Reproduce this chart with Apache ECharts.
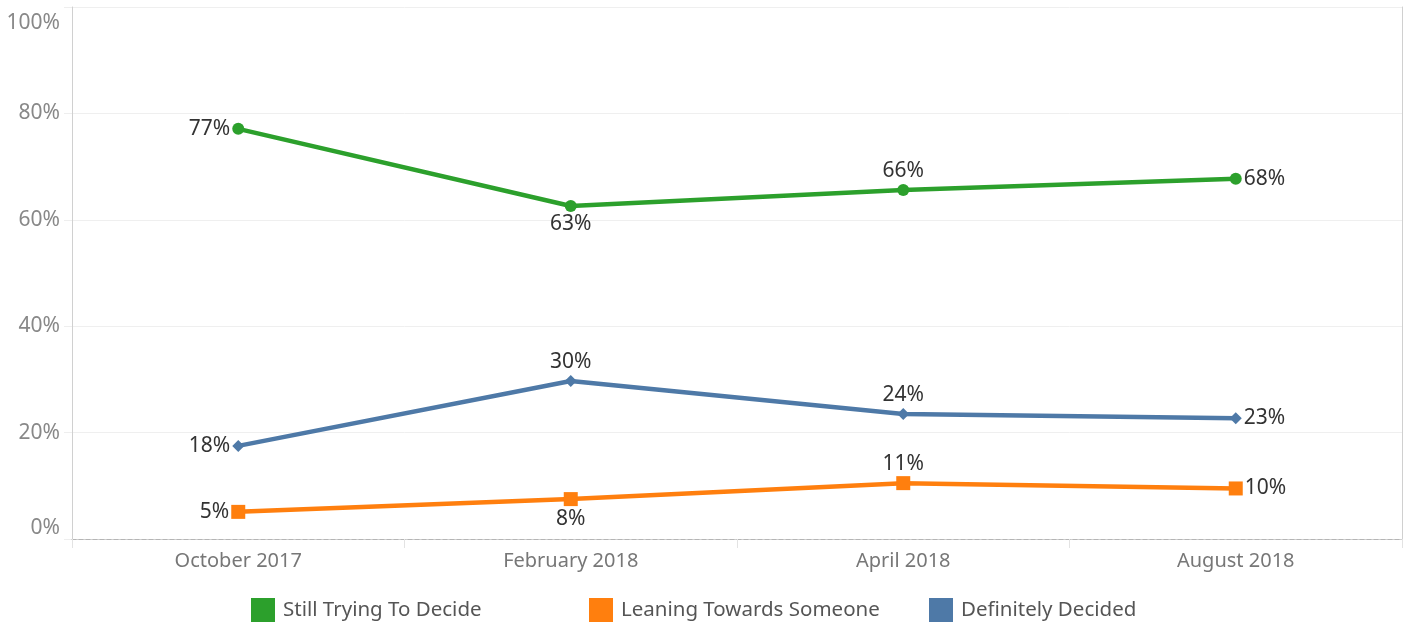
<!DOCTYPE html>
<html><head><meta charset="utf-8">
<script src="https://cdn.jsdelivr.net/npm/echarts@6/dist/echarts.min.js"></script>
<style>html,body{margin:0;padding:0;background:#fff}#c{width:1410px;height:625px}</style>
</head><body><div id="c"></div>
<script>
const categories = ['October 2017', 'February 2018', 'April 2018', 'August 2018'];
const stillTrying = [77.1, 62.6, 65.6, 67.7];
const leaning = [5.1, 7.5, 10.5, 9.5];
const decided = [17.5, 29.7, 23.5, 22.7];
const yTicks = [0, 20, 40, 60, 80, 100];
const seriesNames = ['Still Trying To Decide', 'Leaning Towards Someone', 'Definitely Decided'];
const colors = ['#2ca02c', '#ff7f0e', '#4e79a7'];
const labelPos = {
  'Still Trying To Decide': ['left', 'bottom', 'top', 'right'],
  'Leaning Towards Someone': ['left', 'bottom', 'top', 'right'],
  'Definitely Decided': ['left', 'top', 'top', 'right']
};
const FONT = 'Noto Sans';
const chart = echarts.init(document.getElementById('c'));
function mk(name, data, color, symbol, size) {
  return {
    name, type: 'line', data: data.map((v, i) => ({
      value: v,
      label: { position: labelPos[name][i] }
    })),
    color, symbol, symbolSize: size, showAllSymbol: true,
    lineStyle: { width: 4.5, color },
    itemStyle: { color },
    label: {
      show: true, distance: 2, fontFamily: FONT, fontSize: 21, color: '#333',
      formatter: p => Math.round(p.value) + '%'
    },
    emphasis: { disabled: true },
    z: 5
  };
}
chart.setOption({
  animation: false,
  textStyle: { fontFamily: FONT },
  grid: { left: 72, right: 8, top: 7, bottom: 86 },
  legend: seriesNames.map((n, i) => ({
    data: [n], left: [251, 589, 929][i], top: 598, padding: 0,
    icon: 'rect', itemWidth: 24, itemHeight: 24, itemGap: 8,
    textStyle: { fontFamily: FONT, fontSize: 20.5, color: '#555', padding: [3, 0, 0, 3] },
    selectedMode: false
  })),
  xAxis: [{
    type: 'category', data: categories, boundaryGap: true,
    axisLine: { lineStyle: { color: '#b5b5b5', type: [4, 3], width: 1 } },
    axisTick: { show: true, length: 9, lineStyle: { color: '#e3e3e3' } },
    axisLabel: { fontFamily: FONT, fontSize: 20, color: '#777', margin: 12 },
    splitLine: { show: false }, z: 3
  }, {
    type: 'category', data: categories, position: 'top',
    axisLine: { show: true, lineStyle: { color: '#d0d0d0' } },
    axisTick: { show: false }, axisLabel: { show: false }
  }],
  yAxis: [{
    type: 'value', min: 0, max: 100, interval: 20,
    axisLine: { show: true, lineStyle: { color: '#d0d0d0' } },
    axisTick: { show: true, length: 8, lineStyle: { color: '#eeeeee' } },
    axisLabel: {
      fontFamily: FONT, fontSize: 21, color: '#888', margin: 12,
      formatter: v => v === 100 ? '{top|' + v + '%}' : (yTicks.includes(v) ? v + '%' : ''),
      rich: { top: { fontFamily: FONT, fontSize: 21, color: '#888', padding: [6, 0, 0, 0] } },
      verticalAlignMinLabel: 'bottom', verticalAlignMaxLabel: 'top'
    },
    splitLine: { show: true, lineStyle: { color: '#efefef', width: 1 } }
  }, {
    type: 'value', min: 0, max: 100, interval: 20, position: 'right',
    axisLine: { show: true, lineStyle: { color: '#d0d0d0' } },
    axisTick: { show: false }, axisLabel: { show: false }, splitLine: { show: false }
  }],
  series: [
    mk(seriesNames[0], stillTrying, colors[0], 'circle', 12),
    mk(seriesNames[1], leaning, colors[1], 'rect', 14),
    mk(seriesNames[2], decided, colors[2], 'diamond', 12)
  ]
});
</script></body></html>
